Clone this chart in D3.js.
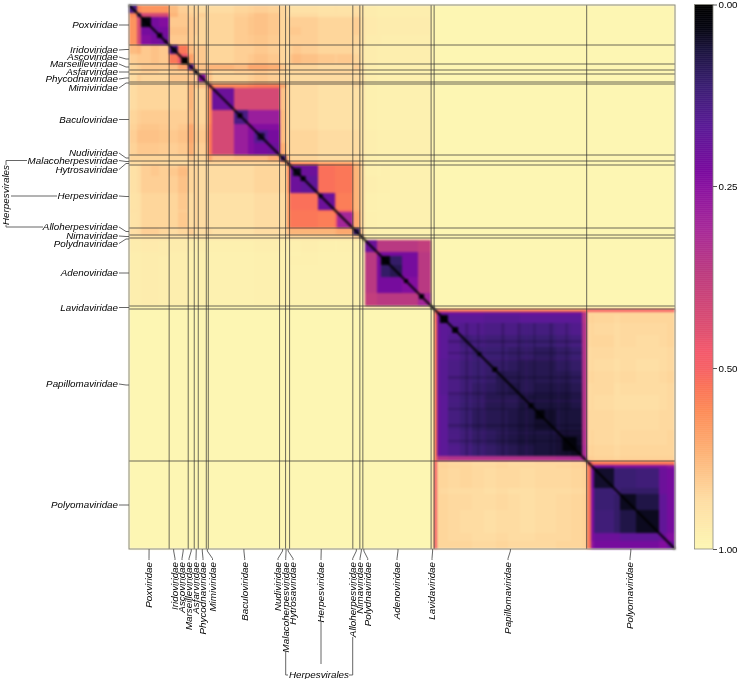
<!DOCTYPE html>
<html lang="en">
<head>
<meta charset="UTF-8">
<title>Virus family distance heatmap</title>
<script src="https://d3js.org/d3.v7.min.js"></script>
<style>
    html, body { margin: 0; background: #fff; }
    svg { display: block; }
    text { font-family: "Liberation Sans", Arial, sans-serif; fill: #000; }
    .name { font-size: 9.8px; font-style: italic; }
</style>
</head>
<body>
<svg id="chart" width="738" height="679"></svg>
<script>
// families in matrix order, each with the sizes of its sub clusters (in rows)
const families = ['Poxviridae','Iridoviridae','Ascoviridae','Marseilleviridae','Asfarviridae','Phycodnaviridae','Mimiviridae','Baculoviridae','Nudiviridae','Malacoherpesviridae','Hytrosaviridae','Herpesviridae','Alloherpesviridae','Nimaviridae','Polydnaviridae','Adenoviridae','Lavidaviridae','Papillomaviridae','Polyomaviridae'];
const clusterSizes = [[8,4,10,8,10],[9],[10],[6],[4],[8],[2],[4,22,14,6,13,12],[6],[1],[3],[3,8,17,17,2,16],[7],[3],[2],[12,4,9,12,16,13],[3],[3,3,8,12,12,12,12,12,12,15,20,15,11,5],[4,3,20,6,16,23,8,8]];
const dividedFamilies = ['Poxviridae','Ascoviridae','Marseilleviridae','Asfarviridae','Phycodnaviridae','Mimiviridae','Baculoviridae','Nudiviridae','Hytrosaviridae','Herpesviridae','Alloherpesviridae','Nimaviridae','Adenoviridae','Lavidaviridae','Papillomaviridae'];
const herpesvirales = ['Malacoherpesviridae','Hytrosaviridae','Herpesviridae','Alloherpesviridae'];

// upper triangle, Poxviridae to Polydnaviridae (each row starts on the diagonal)
const largeDna = [
  [.14,.60,.64,.64,.64, .76,.82,.84,.84,.86,.86, .86,.86,.84,.83,.82,.83, .84,.86,.86, .88,.88,.88,.89,.88,.89, .87,.90,.92],
  [.12,.42,.42,.42, .74,.80,.82,.84,.82,.86, .84,.84,.82,.80,.78,.80, .84,.86,.86, .86,.86,.86,.88,.88,.88, .86,.90,.92],
  [.03,.22,.24, .80,.80,.80,.82,.84,.86, .84,.84,.81,.79,.78,.80, .84,.85,.84, .82,.82,.82,.84,.84,.84, .82,.88,.90],
  [.20,.22, .78,.78,.80,.82,.84,.85, .84,.84,.81,.79,.78,.80, .84,.85,.84, .80,.80,.82,.84,.84,.84, .82,.88,.90],
  [.20, .80,.80,.80,.84,.84,.86, .84,.84,.81,.80,.79,.81, .84,.85,.84, .82,.82,.82,.84,.84,.84, .84,.88,.90],
  [.18,.56, .76,.82,.80,.84, .84,.84,.82,.82,.80,.82, .84,.86,.86, .82,.80,.82,.84,.84,.84, .86,.88,.92],
  [.46, .68,.82,.80,.84, .84,.84,.82,.80,.78,.80, .84,.86,.86, .78,.76,.78,.80,.82,.80, .84,.88,.92],
  [.16,.74,.78,.78, .74,.74,.76,.70,.70,.72, .80,.84,.84, .84,.84,.84,.86,.86,.86, .82,.88,.90],
  [.06,.82,.84, .80,.84,.82,.82,.80,.82, .84,.86,.86, .84,.84,.84,.84,.84,.84, .86,.88,.92],
  [.24,.80, .78,.84,.84,.82,.80,.82, .84,.86,.86, .86,.86,.86,.86,.86,.86, .86,.88,.90],
  [.06, .74,.78,.78,.76,.74,.76, .82,.86,.86, .84,.84,.84,.84,.84,.84, .84,.86,.90],
  [.40, .60,.60,.58,.56,.56, .70,.80,.84, .86,.86,.86,.88,.88,.88, .86,.90,.92],
  [.20,.42,.42,.42,.42, .78,.80,.84, .86,.86,.86,.88,.88,.88, .88,.90,.92],
  [.14,.28,.28,.28, .76,.82,.84, .86,.86,.86,.88,.88,.88, .88,.90,.92],
  [.24,.24,.24, .76,.82,.84, .86,.86,.86,.88,.88,.88, .88,.90,.92],
  [.16,.22, .76,.82,.84, .84,.84,.84,.86,.86,.86, .86,.90,.92],
  [.20, .72,.80,.84, .84,.84,.84,.86,.86,.86, .86,.90,.92],
  [.12,.60,.78, .84,.84,.84,.86,.86,.86, .86,.90,.92],
  [.08,.70, .82,.82,.84,.84,.84,.84, .84,.90,.92],
  [.14, .62,.62,.62,.66,.66,.66, .76,.84,.90],
  [.20,.20,.20,.54,.56,.56, .74,.84,.90],
  [.04,.20,.54,.56,.56, .74,.84,.90],
  [.18,.54,.56,.56, .74,.84,.90],
  [.20,.54,.58, .74,.84,.90],
  [.16,.50, .72,.84,.90],
  [.30, .70,.84,.90],
  [.10,.80,.88],
  [.06,.84],
  [.06]
];
// the same 29 clusters against the six Adenoviridae clusters
const largeDnaVsAdeno = [
  [.94,.95,.95,.95,.95,.95],[.94,.95,.95,.95,.95,.95],[.93,.94,.94,.94,.94,.94],[.93,.94,.94,.94,.94,.94],[.94,.94,.95,.95,.95,.95],
  [.94,.95,.95,.95,.95,.95],[.94,.95,.95,.95,.95,.95],[.95,.96,.96,.96,.96,.96],[.96,.97,.97,.97,.97,.97],[.95,.96,.96,.96,.96,.96],[.95,.96,.96,.96,.96,.96],
  [.96,.97,.97,.97,.97,.97],[.96,.97,.97,.97,.97,.97],[.96,.97,.97,.97,.97,.97],[.96,.97,.97,.97,.97,.97],[.95,.96,.96,.96,.96,.96],[.95,.96,.96,.96,.96,.96],
  [.96,.97,.97,.97,.97,.97],[.97,.97,.97,.97,.97,.97],[.96,.97,.97,.97,.97,.97],
  [.96,.97,.96,.97,.97,.97],[.96,.97,.96,.97,.97,.97],[.95,.96,.96,.97,.97,.97],[.96,.97,.97,.97,.97,.97],[.97,.97,.97,.97,.97,.97],[.96,.97,.97,.97,.97,.97],
  [.96,.97,.97,.97,.97,.97],[.96,.97,.97,.97,.97,.97],[.96,.97,.97,.97,.97,.97]
];
const adeno = [
  [.20,.36,.36,.36,.36,.38],
  [.24,.22,.22,.22,.36],
  [.02,.10,.22,.36],
  [.08,.22,.36],
  [.24,.36],
  [.30]
];
const lavidaSelf = .05;
const lavidaVsAdeno = .975, lavidaVsSmall = .985, otherVsSmall = .995;
const papilloma = [
  [.40,.52,.54,.56,.56,.56,.56,.56,.56,.56,.56,.56,.56,.55],
  [.20,.20,.20,.20,.20,.19,.19,.19,.20,.20,.20,.20,.35],
  [.02,.17,.17,.17,.16,.16,.16,.17,.17,.17,.17,.35],
  [.16,.15,.15,.14,.14,.14,.13,.13,.14,.15,.34],
  [.12,.13,.12,.12,.12,.11,.11,.12,.13,.34],
  [.11,.11,.11,.10,.10,.09,.10,.11,.34],
  [.10,.10,.09,.08,.08,.09,.10,.34],
  [.08,.08,.08,.08,.08,.09,.34],
  [.07,.08,.07,.07,.08,.34],
  [.06,.06,.06,.07,.34],
  [.05,.06,.06,.34],
  [.05,.05,.33],
  [.04,.32],
  [.30]
];
const papillomaVsPolyoma = [
  [.50,.50,.50,.50,.50,.50,.50,.50],
  [.84,.84,.84,.84,.84,.84,.84,.84],
  [.84,.83,.84,.85,.84,.84,.84,.84],
  [.85,.84,.85,.86,.85,.85,.85,.84],
  [.85,.84,.84,.86,.85,.86,.85,.84],
  [.86,.85,.85,.86,.86,.86,.86,.85],
  [.86,.85,.86,.87,.86,.87,.86,.85],
  [.85,.84,.85,.86,.85,.86,.85,.84],
  [.86,.85,.85,.87,.86,.86,.86,.85],
  [.86,.85,.86,.87,.87,.87,.86,.85],
  [.85,.85,.85,.86,.86,.86,.85,.85],
  [.85,.84,.85,.86,.85,.85,.85,.84],
  [.84,.83,.84,.85,.84,.84,.84,.84],
  [.82,.82,.83,.84,.83,.83,.83,.83]
];
const polyoma = [
  [.40,.54,.56,.56,.56,.56,.56,.56],
  [.24,.22,.24,.24,.24,.24,.26],
  [.05,.11,.11,.12,.20,.22],
  [.12,.10,.10,.20,.22],
  [.04,.07,.18,.22],
  [.04,.18,.22],
  [.20,.24],
  [.20]
];
// near-black runs on the diagonal: first row, row count, distance
const diagonalRuns = [[28,5,.03],[35,3,.03],[42,6,.05],[52,7,.01],[108,5,.02],[128,7,.05],[171,5,.02],[189,4,.04],[274,4,.01],[289,5,.01],[322,6,.02],[347,4,.03],[362,5,.01],[398,5,.02],[405,9,.02],[432,14,.02]];
// bands that run through the Papillomaviridae block: first row, row count, distance
const papillomaBands = [[335,3,.02],[347,2,.02],[353,3,.17],[371,3,.02],[387,3,.02],[395,2,.17],[403,2,.02],[419,3,.02],[427,2,.14],[435,2,.02]];

const barTicks = [0, .25, .5, 1];
// colour ramp
const rampValues = [0,.03,.063,.11,.166,.228,.25,.31,.365,.448,.475,.547,.616,.727,.865,1];
const rampColors = ['#000000','#050510','#1c1440','#3a1e72','#5a1a96','#7a0a9e','#8a12a0','#a82a98','#bb3a80','#e05070','#f4596c','#fb7258','#fd8c58','#fdb175','#fedea4','#fdf7b4'];

// layout of the repelled labels
const leftLabelY = [25,50,57,64,72,79,88,119.5,153,160.5,169.5,196,227,236,243.5,273,307.5,384,505];
const bottomLabelX = [149,175,182,189,196,203,212.5,244.7,278,285.7,293,321,352.7,360,367.7,397,432,508,630];

const svg = d3.select('#chart').style('filter', 'blur(0.3px)');
const plot = {left: 129, right: 675, top: 5, bottom: 549};
const bar = {left: 694.5, right: 713, top: 4.5, bottom: 549};

const clusters = [];
let rowCount = 0;
clusterSizes.forEach((sizes, f) => sizes.forEach(size => {
    clusters.push({family: f, start: rowCount, end: rowCount + size});
    rowCount += size;
}));
const familyRange = families.map((name, f) => {
    const own = clusters.filter(c => c.family === f);
    return {name, start: own[0].start, end: own[own.length - 1].end};
});

const nLarge = largeDna.length, firstLavida = nLarge + adeno.length, firstPapilloma = firstLavida + 1, firstPolyoma = firstPapilloma + papilloma.length;

function distance(i, j) {
    if (i > j) return distance(j, i);
    if (j < nLarge) return largeDna[i][j - i];
    if (j < firstLavida) return i < nLarge ? largeDnaVsAdeno[i][j - nLarge] : adeno[i - nLarge][j - i];
    if (j === firstLavida) return i === j ? lavidaSelf : i >= nLarge ? lavidaVsAdeno : lavidaVsSmall;
    if (i < firstPapilloma) return i === firstLavida ? lavidaVsSmall : otherVsSmall;
    if (j < firstPolyoma) return papilloma[i - firstPapilloma][j - i];
    if (i < firstPolyoma) return papillomaVsPolyoma[i - firstPapilloma][j - firstPolyoma];
    return polyoma[i - firstPolyoma][j - i];
}

const x = d3.scaleLinear().domain([0, rowCount]).range([plot.left, plot.right]);
const y = d3.scaleLinear().domain([0, rowCount]).range([plot.top, plot.bottom]);
const color = d3.scaleLinear().domain(rampValues).range(rampColors);
const barY = d3.scaleLinear().domain(barTicks).range([bar.top, 186, 368, bar.bottom]);

const heat = svg.append('g').style('filter', 'blur(0.8px)');

const cells = d3.cross(d3.range(clusters.length), d3.range(clusters.length));
heat.selectAll('rect.cell')
    .data(cells)
    .enter().append('rect')
    .attr('class', 'cell')
    .attr('x', d => x(clusters[d[1]].start))
    .attr('y', d => y(clusters[d[0]].start))
    .attr('width', d => x(clusters[d[1]].end) - x(clusters[d[1]].start))
    .attr('height', d => y(clusters[d[0]].end) - y(clusters[d[0]].start))
    .attr('fill', d => color(distance(d[0], d[1])))
    .attr('shape-rendering', 'crispEdges');

// texture bands in both directions, between the orange edge strips
const bandFrom = clusters[firstPapilloma + 3].start, bandTo = clusters[firstPapilloma + 13].start;
heat.selectAll('rect.hband').data(papillomaBands).enter().append('rect').attr('class', 'hband')
    .attr('x', x(bandFrom)).attr('width', x(bandTo) - x(bandFrom))
    .attr('y', d => y(d[0])).attr('height', d => y(d[0] + d[1]) - y(d[0]))
    .attr('fill', d => color(d[2])).attr('fill-opacity', .16);
heat.selectAll('rect.vband').data(papillomaBands).enter().append('rect').attr('class', 'vband')
    .attr('y', y(bandFrom)).attr('height', y(bandTo) - y(bandFrom))
    .attr('x', d => x(d[0])).attr('width', d => x(d[0] + d[1]) - x(d[0]))
    .attr('fill', d => color(d[2])).attr('fill-opacity', .16);

heat.selectAll('rect.run')
    .data(diagonalRuns)
    .enter().append('rect')
    .attr('class', 'run')
    .attr('x', d => x(d[0]))
    .attr('y', d => y(d[0]))
    .attr('width', d => x(d[0] + d[1]) - x(d[0]))
    .attr('height', d => y(d[0] + d[1]) - y(d[0]))
    .attr('fill', d => color(d[2]));

heat.append('line')
    .attr('x1', x(0)).attr('y1', y(0))
    .attr('x2', x(rowCount)).attr('y2', y(rowCount))
    .attr('stroke', color(0))
    .attr('stroke-width', 1.9);

// family dividers
const dividers = familyRange.filter(d => dividedFamilies.includes(d.name));
const lines = svg.append('g').attr('stroke', '#333').attr('stroke-opacity', .8).attr('stroke-width', .9);
lines.selectAll('line.h').data(dividers).enter().append('line').attr('class', 'h')
    .attr('x1', plot.left).attr('x2', plot.right).attr('y1', d => y(d.end)).attr('y2', d => y(d.end));
lines.selectAll('line.v').data(dividers).enter().append('line').attr('class', 'v')
    .attr('y1', plot.top).attr('y2', plot.bottom).attr('x1', d => x(d.end)).attr('x2', d => x(d.end));

svg.append('rect')
    .attr('x', plot.left).attr('y', plot.top)
    .attr('width', plot.right - plot.left).attr('height', plot.bottom - plot.top)
    .attr('fill', 'none').attr('stroke', '#8a8a80');

// left labels and leaders
const leaders = svg.append('g').attr('fill', 'none').attr('stroke', '#555').attr('stroke-width', .9);
leaders.selectAll('path.left').data(familyRange).enter().append('path').attr('class', 'left')
    .attr('d', (d, i) => {
        const ly = leftLabelY[i], fy = y((d.start + d.end) / 2);
        return d3.line()([[119, ly], [126, fy], [plot.left, fy]]);
    });
svg.selectAll('text.left').data(families).enter().append('text')
    .attr('class', 'left name')
    .attr('x', 118).attr('y', (d, i) => leftLabelY[i] + 3.4)
    .attr('text-anchor', 'end')
    .text(d => d);

// bottom labels and leaders
leaders.selectAll('path.bottom').data(familyRange).enter().append('path').attr('class', 'bottom')
    .attr('d', (d, i) => {
        const lx = bottomLabelX[i], fx = x((d.start + d.end) / 2);
        return d3.line()([[fx, plot.bottom], [fx, 551], [lx, 558.5], [lx, 560]]);
    });
svg.selectAll('text.bottom').data(families).enter().append('text')
    .attr('class', 'bottom name')
    .attr('transform', (d, i) => `translate(${bottomLabelX[i] + 3.4},562) rotate(-90)`)
    .attr('text-anchor', 'end')
    .text(d => d);

// Herpesvirales brackets
const group = herpesvirales.filter(n => n !== 'Hytrosaviridae');
const brackets = svg.append('g').attr('fill', 'none').attr('stroke', '#555').attr('stroke-width', .9);
const bottomPos = group.map(n => bottomLabelX[families.indexOf(n)]);
const leftPos = group.map(n => leftLabelY[families.indexOf(n)]);
brackets.append('path').attr('d', d3.line()([[bottomPos[0], 651], [bottomPos[0], 675], [288, 675]]));
brackets.append('path').attr('d', d3.line()([[bottomPos[1], 622], [bottomPos[1], 664]]));
brackets.append('path').attr('d', d3.line()([[349, 675], [bottomPos[2], 675], [bottomPos[2], 637]]));
brackets.append('path').attr('d', d3.line()([[27, leftPos[0]], [6, leftPos[0]], [6, 165]]));
brackets.append('path').attr('d', d3.line()([[11, leftPos[1]], [57, leftPos[1]]]));
brackets.append('path').attr('d', d3.line()([[6, 225], [6, leftPos[2]], [43, leftPos[2]]]));
svg.append('text').attr('class', 'name').attr('x', 319).attr('y', 677.5).attr('text-anchor', 'middle').text('Herpesvirales');
svg.append('text').attr('class', 'name').attr('transform', 'translate(9,195) rotate(-90)').attr('text-anchor', 'middle').text('Herpesvirales');

// colour bar
const barSteps = d3.range(bar.top, bar.bottom, 2);
svg.selectAll('rect.step').data(barSteps).enter().append('rect')
    .attr('class', 'step')
    .attr('x', bar.left).attr('width', bar.right - bar.left)
    .attr('y', d => d).attr('height', d => Math.min(2.4, bar.bottom - d))
    .attr('fill', d => color(Math.min(1, barY.invert(d))));
svg.append('rect')
    .attr('x', bar.left).attr('y', bar.top)
    .attr('width', bar.right - bar.left).attr('height', bar.bottom - bar.top)
    .attr('fill', 'none').attr('stroke', '#8a8a80').attr('stroke-width', .8);

const barAxis = d3.axisRight(barY).tickValues(barTicks).tickFormat(d3.format('.2f')).tickSize(4).tickSizeOuter(0).tickPadding(1.5);
const barG = svg.append('g').attr('transform', `translate(${bar.right},0)`).call(barAxis);
barG.select('.domain').remove();
barG.selectAll('.tick line').attr('stroke', '#555');
barG.selectAll('.tick text').style('font-size', '9.8px').style('font-family', '"Liberation Sans", Arial, sans-serif').attr('fill', '#000');
</script>
</body>
</html>
